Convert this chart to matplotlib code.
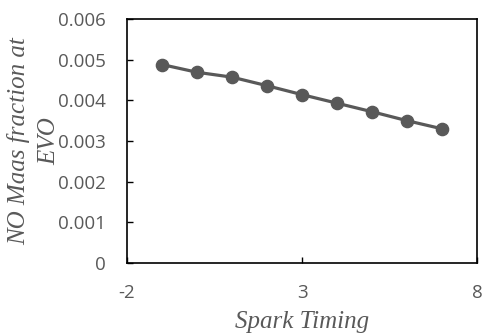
import matplotlib
matplotlib.use("Agg")
import matplotlib.pyplot as plt

# Spark timing vs NO mass fraction at EVO
spark_timing = [-1, 0, 1, 2, 3, 4, 5, 6, 7]
no_mass_fraction = [0.00488, 0.00469, 0.00457, 0.00436, 0.00414,
                    0.00393, 0.00372, 0.00350, 0.00330]

x_ticks = [-2, 3, 8]
y_ticks = [0, 0.001, 0.002, 0.003, 0.004, 0.005, 0.006]
y_tick_labels = ["0", "0.001", "0.002", "0.003", "0.004", "0.005", "0.006"]

gray = "#595959"

fig = plt.figure(figsize=(4.82, 3.34), dpi=100)
ax = fig.add_axes([127 / 482, 1 - 263 / 334, 350 / 482, 244 / 334])

ax.plot(spark_timing, no_mass_fraction, color=gray, lw=2.3,
        marker="o", ms=8.8, mfc=gray, mec=gray)

ax.set_xlim(-2, 8)
ax.set_ylim(0, 0.006)
ax.set_xticks(x_ticks)
ax.set_xticklabels([str(t) for t in x_ticks])
ax.set_yticks(y_ticks)
ax.set_yticklabels(y_tick_labels)

for s in ax.spines.values():
    s.set_color("black")
    s.set_linewidth(1.2)

ax.tick_params(axis="both", direction="in", length=4, width=1, color="black",
               labelcolor=gray, labelsize=13.5)
ax.tick_params(axis="y", pad=15)
ax.tick_params(axis="x", pad=15)
for lab in ax.get_xticklabels() + ax.get_yticklabels():
    lab.set_family("Open Sans")

label_font = dict(family="Liberation Serif", style="italic", color=gray, size=18)
ax.set_xlabel("Spark Timing", **label_font)
ax.xaxis.set_label_coords(0.5, -0.195)
ax.set_ylabel("NO Maas fraction at\nEVO", linespacing=1.5, **label_font)
ax.yaxis.set_label_coords(-0.19, 0.5)

fig.savefig("out.png", dpi=100)
